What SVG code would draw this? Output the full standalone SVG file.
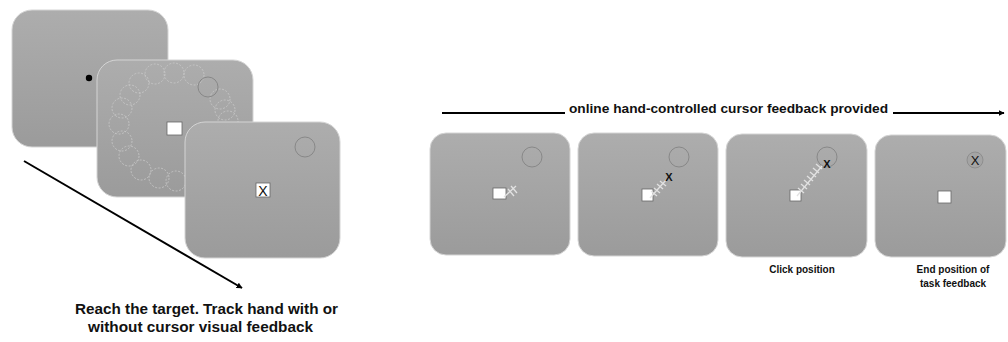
<svg xmlns="http://www.w3.org/2000/svg" width="1008" height="342" viewBox="0 0 1008 342">
<defs>
<linearGradient id="pg" x1="0" y1="0" x2="0" y2="1">
<stop offset="0" stop-color="#adadad"/>
<stop offset="1" stop-color="#9b9b9b"/>
</linearGradient>
<marker id="ah" viewBox="0 0 10 10" refX="9" refY="5" markerWidth="6" markerHeight="6" orient="auto" markerUnits="userSpaceOnUse">
<path d="M0,0 L10,5 L0,10 z" fill="#000"/>
</marker>
</defs>
<style>
.panel{fill:url(#pg);stroke:#d4d4d4;stroke-width:1}
.tgt{fill:none;stroke:#888;stroke-width:1}
.dc{fill:none;stroke:#c9c9c9;stroke-width:0.8;stroke-dasharray:2,1.5}
.sq{fill:#fff;stroke:#666;stroke-width:0.8}
.trail{stroke:#e2e2e2;stroke-width:1.3;fill:none}
.lbl{font-family:"Liberation Sans",Arial,sans-serif;font-weight:bold;fill:#111}
.xm{font-family:"Liberation Sans",Arial,sans-serif;fill:#111;text-anchor:middle}
.ln{stroke:#000;stroke-width:2;fill:none}
</style>

<g id="connectors">
<line class="ln" x1="24" y1="161" x2="242" y2="288" marker-end="url(#ah)" stroke-width="1.5"/>
<line class="ln" x1="442" y1="113" x2="565" y2="113"/>
<line class="ln" x1="893" y1="113" x2="1004" y2="113" marker-end="url(#ah)"/>
</g>

<g id="screen-fixation">
<rect class="panel" x="12" y="10" width="156" height="137" rx="20"/>
<circle cx="89" cy="78" r="3.2" fill="#000"/>
</g>

<g id="screen-targets">
<rect class="panel" x="97" y="60" width="156" height="137" rx="20"/>
<g>
<circle class="dc" cx="174" cy="73" r="10"/>
<circle class="dc" cx="155" cy="74" r="10"/>
<circle class="dc" cx="194" cy="75" r="10"/>
<circle class="dc" cx="139" cy="83" r="10"/>
<circle class="dc" cx="130" cy="95" r="10"/>
<circle class="dc" cx="122" cy="108" r="10"/>
<circle class="dc" cx="119" cy="124" r="10"/>
<circle class="dc" cx="122" cy="141" r="10"/>
<circle class="dc" cx="129" cy="156" r="10"/>
<circle class="dc" cx="141" cy="170" r="10"/>
<circle class="dc" cx="159" cy="178" r="10"/>
<circle class="dc" cx="176" cy="181" r="10"/>
<circle class="dc" cx="220" cy="99" r="10"/>
<circle class="dc" cx="225" cy="110" r="10"/>
<circle class="dc" cx="228" cy="121" r="10"/>
</g>
<circle class="tgt" cx="208" cy="87" r="10"/>
<rect class="sq" x="167" y="122" width="15" height="13"/>
</g>

<g id="screen-feedback">
<rect class="panel" x="185" y="122" width="155" height="136" rx="20"/>
<circle class="tgt" cx="305" cy="147" r="10"/>
<rect class="sq" x="256" y="183" width="14" height="14"/>
<text class="xm" x="263" y="195.5" font-size="14">X</text>
</g>

<text class="lbl" font-size="14.5" x="75" y="314" textLength="263" lengthAdjust="spacingAndGlyphs">Reach the target. Track hand with or</text>
<text class="lbl" font-size="14.5" x="88" y="332" textLength="225" lengthAdjust="spacingAndGlyphs">without cursor visual feedback</text>

<text class="lbl" font-size="13" x="569" y="113" textLength="319" lengthAdjust="spacingAndGlyphs">online hand-controlled cursor feedback provided</text>

<g id="frame-1">
<rect class="panel" x="430" y="133" width="140" height="122" rx="16"/>
<circle class="tgt" cx="532" cy="157" r="10"/>
<rect class="sq" x="493" y="188" width="13" height="11"/>
<g class="trail">
<line x1="504" y1="197" x2="516" y2="186"/>
<line x1="508" y1="189" x2="514" y2="196"/>
<line x1="511" y1="186" x2="517" y2="193"/>
</g>
</g>

<g id="frame-2">
<rect class="panel" x="578" y="133" width="140" height="123" rx="16"/>
<circle class="tgt" cx="679" cy="157" r="10"/>
<rect class="sq" x="642" y="189" width="11" height="12"/>
<g class="trail">
<line x1="650" y1="198" x2="666" y2="180"/>
<line x1="651" y1="191" x2="657" y2="196"/>
<line x1="654" y1="188" x2="660" y2="193"/>
<line x1="657" y1="184" x2="663" y2="189"/>
<line x1="660" y1="181" x2="666" y2="186"/>
</g>
<text class="xm" x="669" y="181" font-size="11" font-weight="bold">X</text>
</g>

<g id="frame-3">
<rect class="panel" x="726" y="134" width="141" height="123" rx="16"/>
<circle class="tgt" cx="827" cy="157" r="10"/>
<rect class="sq" x="790" y="190" width="11" height="11"/>
<g class="trail">
<line x1="797" y1="196" x2="822" y2="166"/>
<line x1="798" y1="188" x2="804" y2="193"/>
<line x1="801" y1="184" x2="807" y2="189"/>
<line x1="804" y1="180" x2="810" y2="185"/>
<line x1="807" y1="176" x2="813" y2="181"/>
<line x1="810" y1="172" x2="816" y2="177"/>
<line x1="813" y1="168" x2="819" y2="173"/>
<line x1="816" y1="164" x2="822" y2="169"/>
</g>
<text class="xm" x="827" y="168" font-size="11" font-weight="bold">X</text>
<text class="lbl" font-size="10" text-anchor="middle" x="802" y="273">Click  position</text>
</g>

<g id="frame-4">
<rect class="panel" x="875" y="135" width="131" height="122" rx="16"/>
<circle cx="975" cy="160" r="8" fill="#a4a4a4" stroke="#888" stroke-width="0.8"/>
<text class="xm" x="975" y="165" font-size="13">X</text>
<rect class="sq" x="938" y="191" width="13" height="12"/>
<text class="lbl" font-size="10" text-anchor="middle" x="953" y="273">End position of</text>
<text class="lbl" font-size="10" text-anchor="middle" x="953" y="287">task feedback</text>
</g>
</svg>
